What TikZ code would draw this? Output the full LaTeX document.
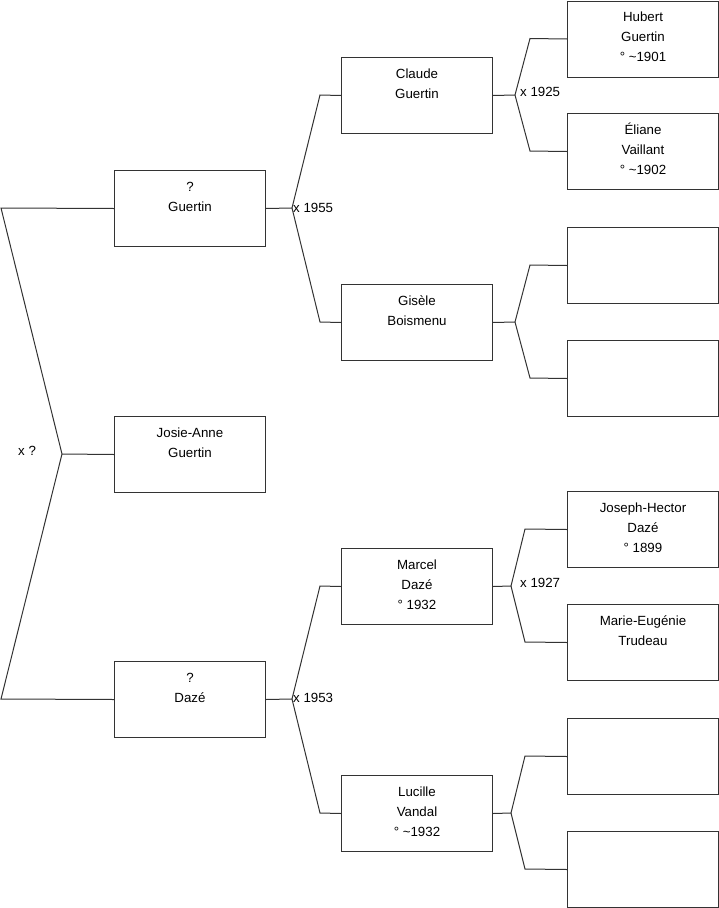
\documentclass[tikz,border=0pt]{standalone}
\usepackage{fontspec}
\setmainfont{Liberation Sans}
\tikzset{
  person/.style={draw=black!80, line width=1pt, rectangle, minimum width=151pt, minimum height=76pt, inner sep=0pt, anchor=north west},
  link/.style={draw=black!80, line width=1pt},
  mlabel/.style={anchor=west, inner sep=0pt, font=\fontsize{13.3}{15}\selectfont}
}
\newcommand{\ptext}[1]{\parbox[c][76pt][t]{151pt}{\centering\fontsize{13.3}{20}\selectfont\rule{0pt}{20.5pt}#1\par}}
\begin{document}
\begin{tikzpicture}[x=1pt,y=-1pt]
\useasboundingbox (0,0) rectangle (719,908);
% column 1
\node[person] (G) at (114,170) {\ptext{?\\Guertin}};
\node[person] (J) at (114,416) {\ptext{Josie-Anne\\Guertin}};
\node[person] (D) at (114,661) {\ptext{?\\Dazé}};
% column 2
\node[person] (C) at (341,57) {\ptext{Claude\\Guertin}};
\node[person] (Gi) at (341,284) {\ptext{Gisèle\\Boismenu}};
\node[person] (M) at (341,548) {\ptext{Marcel\\Dazé\\° 1932}};
\node[person] (L) at (341,775) {\ptext{Lucille\\Vandal\\° \textasciitilde1932}};
% column 3
\node[person] (H) at (567,0.5) {\ptext{Hubert\\Guertin\\° \textasciitilde1901}};
\node[person] (E) at (567,113) {\ptext{Éliane\\Vaillant\\° \textasciitilde1902}};
\node[person] (P3) at (567,227) {\ptext{}};
\node[person] (P4) at (567,340) {\ptext{}};
\node[person] (JH) at (567,491) {\ptext{Joseph-Hector\\Dazé\\° 1899}};
\node[person] (ME) at (567,604) {\ptext{Marie-Eugénie\\Trudeau}};
\node[person] (P7) at (567,718) {\ptext{}};
\node[person] (P8) at (567,831) {\ptext{}};
% root connector
\coordinate (r0) at (62,454);
\coordinate (rt) at (1,208);
\coordinate (rb) at (1,699);
\draw[link] (G.west) -- (rt) -- (r0) -- (rb) -- (D.west);
\draw[link] (r0) -- (J.west);
\node[mlabel] (lr) at (18,451) {x ?};
% G
\coordinate (jg) at (292,208);
\coordinate (bg1) at (320,95);
\coordinate (bg2) at (320,322);
\draw[link] (G.east) -- (jg) -- (bg1) -- (C.west);
\draw[link] (jg) -- (bg2) -- (Gi.west);
\node[mlabel] (lg) at (293,208) {x 1955};
% D
\coordinate (jd) at (292,699);
\coordinate (bd1) at (320,586);
\coordinate (bd2) at (320,813);
\draw[link] (D.east) -- (jd) -- (bd1) -- (M.west);
\draw[link] (jd) -- (bd2) -- (L.west);
\node[mlabel] (ld) at (293,698) {x 1953};
% C
\coordinate (jc) at (515,95);
\coordinate (bc1) at (530,38.5);
\coordinate (bc2) at (530,151);
\draw[link] (C.east) -- (jc) -- (bc1) -- (H.west);
\draw[link] (jc) -- (bc2) -- (E.west);
\node[mlabel] (lc) at (520,92) {x 1925};
% Gi
\coordinate (jgi) at (515,322);
\coordinate (bgi1) at (530,265);
\coordinate (bgi2) at (530,378);
\draw[link] (Gi.east) -- (jgi) -- (bgi1) -- (P3.west);
\draw[link] (jgi) -- (bgi2) -- (P4.west);
% M
\coordinate (jm) at (511,586);
\coordinate (bm1) at (525,529);
\coordinate (bm2) at (525,642);
\draw[link] (M.east) -- (jm) -- (bm1) -- (JH.west);
\draw[link] (jm) -- (bm2) -- (ME.west);
\node[mlabel] (lm) at (520,583) {x 1927};
% L
\coordinate (jl) at (511,813);
\coordinate (bl1) at (525,756);
\coordinate (bl2) at (525,869);
\draw[link] (L.east) -- (jl) -- (bl1) -- (P7.west);
\draw[link] (jl) -- (bl2) -- (P8.west);
\end{tikzpicture}
\end{document}
